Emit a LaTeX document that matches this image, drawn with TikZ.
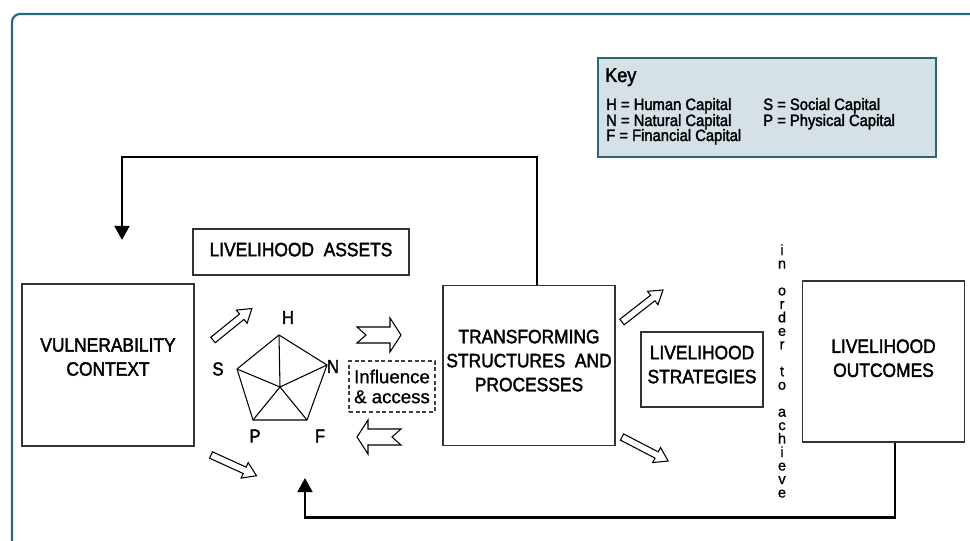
\documentclass[tikz,border=0pt]{standalone}
\usepackage{fontspec}
\setmainfont{Liberation Sans}[FakeStretch=0.9, FakeBold=2]
\newfontfamily\plainsans{Liberation Sans}[FakeBold=1]
\usetikzlibrary{arrows.meta}

\definecolor{frameteal}{HTML}{24697F}
\definecolor{keyfill}{HTML}{D5E1E7}
\definecolor{keyline}{HTML}{2B6677}

\tikzset{
	box/.style={draw=black!80, line width=0.9pt, align=center, inner sep=0pt,
		font=\fontsize{14.5}{18}\selectfont},
	keyentry/.style={anchor=base west, inner sep=0pt, font=\fontsize{12.3}{12.3}\selectfont},
	capital/.style={inner sep=0pt, font=\fontsize{14}{14}\selectfont},
	hollow/.style={draw=black, line width=0.8pt, fill=white},
	feedback/.style={line width=2pt, -{Triangle[length=10.5pt,width=11pt]}},
}

\begin{document}
\begin{tikzpicture}[x=0.75pt,y=-0.75pt]

\clip (0,0) rectangle (970,541);
\draw [frameteal, line width=1.6pt, rounded corners=6pt] (12,14) rectangle (1000,600);

% key
\node [draw=keyline, line width=1.8pt, fill=keyfill, minimum width=253.5pt, minimum height=74.25pt] (key) at (767,107.5) {};
\node [keyentry, font=\fontsize{15}{15}\selectfont] (keytitle) at (605,82) {Key};
\node [keyentry] (keyh) at (606,110) {H = Human Capital};
\node [keyentry] (keys) at (763,110) {S = Social Capital};
\node [keyentry] (keyn) at (606,126) {N = Natural Capital};
\node [keyentry] (keyp) at (763,126) {P = Physical Capital};
\node [keyentry] (keyf) at (606,141) {F = Financial Capital};

% boxes
\node [box, minimum width=129pt, minimum height=121.5pt, text depth=12pt] (vuln) at (108,365) {VULNERABILITY\\CONTEXT};
\node [box, minimum width=162pt, minimum height=34.5pt, text depth=3.75pt] (assets) at (301,252) {LIVELIHOOD\ \ ASSETS};
\node [box, minimum width=129pt, minimum height=120pt, text depth=7.5pt] (trans) at (529,365.5) {TRANSFORMING\\STRUCTURES\ \ AND\\PROCESSES};
\node [box, minimum width=91.5pt, minimum height=56.25pt, text depth=7.5pt] (strat) at (702,369.5) {LIVELIHOOD\\STRATEGIES};
\node [box, minimum width=121.5pt, minimum height=120.75pt, text depth=5pt] (outc) at (883.5,361.5) {LIVELIHOOD\\OUTCOMES};

\node [draw=black!75, dash pattern=on 3pt off 2pt, line width=0.8pt, minimum width=64.5pt, minimum height=38.25pt,
	align=center, inner sep=0pt, font=\plainsans\fontsize{14}{15}\selectfont] (infl) at (392,386.5) {Influence\\\& access};

% pentagon
\coordinate (ph) at (279,335);
\coordinate (pn) at (327,365);
\coordinate (pf) at (307,420);
\coordinate (pp) at (253,420);
\coordinate (ps) at (237,369);
\coordinate (pc) at (280,387);
\draw [line width=0.8pt] (ph) -- (pn) -- (pf) -- (pp) -- (ps) -- cycle;
\foreach \v in {ph,pn,pf,pp,ps} {
	\draw [line width=0.8pt] (pc) -- (\v);
}

\node [capital] (h) at (288,317.5) {H};
\node [capital] (n) at (333,366.5) {N};
\node [capital] (s) at (218,369) {S};
\node [capital] (p) at (255,436) {P};
\node [capital] (f) at (320,436) {F};

% block arrows
\draw [hollow, shift={(357,335)}] (0,-8) -- (33,-8) -- (33,-17) -- (44,0) -- (33,17) -- (33,8) -- (0,8) -- (9,0) -- cycle;
\draw [hollow, shift={(401,437)}, xscale=-1] (0,-8) -- (33,-8) -- (33,-17) -- (44,0) -- (33,17) -- (33,8) -- (0,8) -- (9,0) -- cycle;

\foreach \x/\y/\a/\l in {213/340/39/50, 211/455/-24.5/50, 622/322/38/52, 622/437/-27.5/52} {
	\draw [hollow, shift={(\x,\y)}, rotate=\a] (0,-3.5) -- (\l-13,-3.5) -- (\l-13,-8.5) -- (\l,0) -- (\l-13,8.5) -- (\l-13,3.5) -- (0,3.5) -- cycle;
}

\node [inner sep=0pt, align=center, font=\plainsans\fontsize{11}{10.1}\selectfont] (inorder) at (782,371)
	{i\\n\\[10.1pt]o\\r\\d\\e\\r\\[10.1pt]t\\o\\[10.1pt]a\\c\\h\\i\\e\\v\\e};

% feedback
\coordinate (vulnin) at (122,240);
\coordinate (assetsin) at (305,478);
\draw [feedback] ([xshift=6pt]trans.north) -- ++(0,-128) -| (vulnin);
\draw [feedback] ([xshift=8.6pt]outc.south) -- ++(0,75) -| (assetsin);

\end{tikzpicture}
\end{document}
